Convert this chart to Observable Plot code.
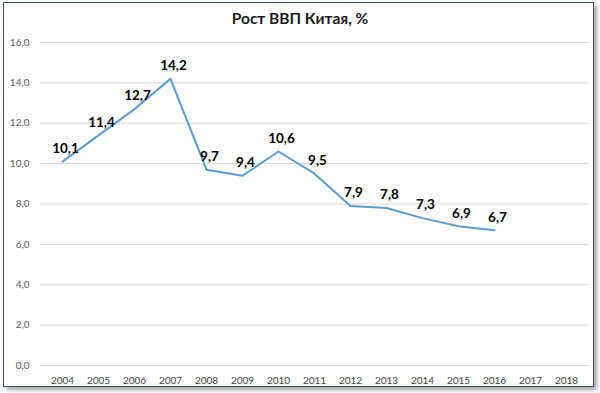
<!DOCTYPE html>
<html>
<head>
<meta charset="utf-8">
<script src="https://cdn.jsdelivr.net/npm/d3@7"></script>
<script src="https://cdn.jsdelivr.net/npm/@observablehq/plot@0.6"></script>
<style>
  html, body { margin: 0; padding: 0; background: #fff; }
  #wrap { position: relative; width: 600px; height: 393px; overflow: hidden; background: #fff; font-family: Lato, "Open Sans", sans-serif; }
  #frame { position: absolute; left: 3px; top: 2px; width: 589px; height: 383px; border: 1.5px solid #3d4f6e; box-shadow: 3px 3px 4px rgba(0,0,0,0.35); pointer-events: none; }
  #title { position: absolute; left: 0; top: 9px; width: 600px; text-align: center; font-size: 15.5px; font-weight: bold; color: #1a1a1a; }
  #chart { position: absolute; left: 0; top: 30px; }
</style>
</head>
<body>
<div id="wrap">
  <div id="title">Рост ВВП Китая, %</div>
  <div id="chart"></div>
  <div id="frame"></div>
</div>
<script>
const years = [2004, 2005, 2006, 2007, 2008, 2009, 2010, 2011, 2012, 2013, 2014, 2015, 2016, 2017, 2018];
const dataYears = [2004, 2005, 2006, 2007, 2008, 2009, 2010, 2011, 2012, 2013, 2014, 2015, 2016];
const gdpGrowth = [10.1, 11.4, 12.7, 14.2, 9.7, 9.4, 10.6, 9.5, 7.9, 7.8, 7.3, 6.9, 6.7];
const yTicks = [0, 2, 4, 6, 8, 10, 12, 14, 16];

const data = dataYears.map((y, i) => ({year: y, value: gdpGrowth[i]}));
const fmt = v => v.toFixed(1).replace(".", ",");

const chart = Plot.plot({
  width: 600,
  height: 363,
  marginTop: 12,
  marginBottom: 28,
  marginLeft: 40,
  marginRight: 12,
  style: {fontFamily: "Lato, 'Open Sans', sans-serif", fontSize: "10px", color: "#595959", background: "transparent"},
  x: {type: "point", domain: years, padding: 0.5, label: null},
  y: {domain: [0, 16], label: null},
  marks: [
    Plot.gridY(yTicks, {stroke: "#d9d9d9", strokeOpacity: 1, strokeWidth: 1}),
    Plot.axisY(yTicks, {tickSize: 0, tickPadding: 11, tickFormat: fmt, fill: "#595959", fontSize: 10}),
    Plot.axisX(years, {tickSize: 0, tickPadding: 11, tickFormat: d => String(d), fill: "#404040", fontSize: 10}),
    Plot.line(data, {x: "year", y: "value", stroke: "#5b9bd5", strokeWidth: 2}),
    Plot.text(data, {x: "year", y: "value", text: d => fmt(d.value), dx: 3, dy: -13, fill: "#000", fontWeight: "bold", fontSize: 13.5})
  ]
});
document.getElementById("chart").appendChild(chart);
</script>
</body>
</html>
